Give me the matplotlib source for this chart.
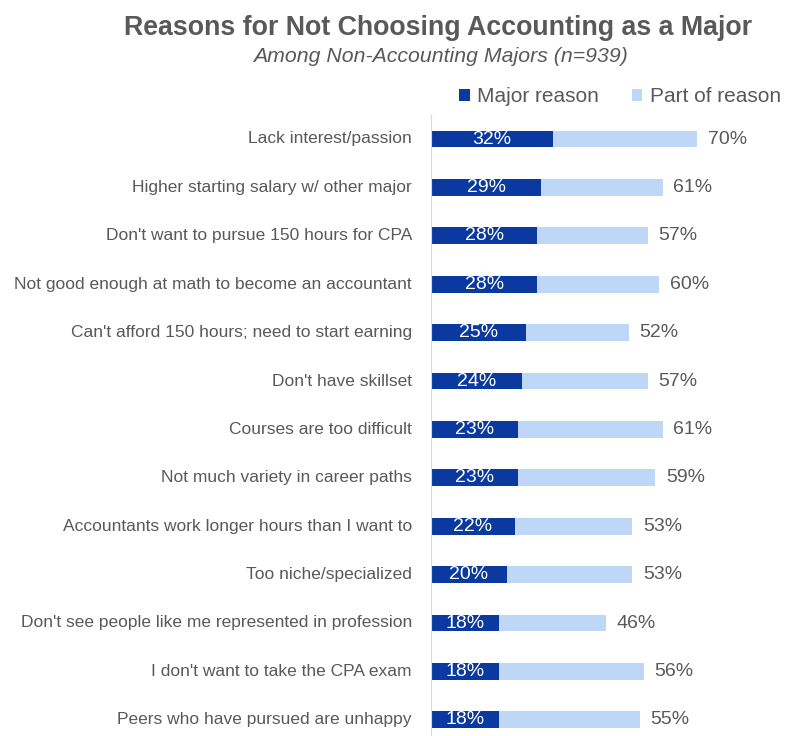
import matplotlib.pyplot as plt

reasons = [
    "Lack interest/passion",
    "Higher starting salary w/ other major",
    "Don't want to pursue 150 hours for CPA",
    "Not good enough at math to become an accountant",
    "Can't afford 150 hours; need to start earning",
    "Don't have skillset",
    "Courses are too difficult",
    "Not much variety in career paths",
    "Accountants work longer hours than I want to",
    "Too niche/specialized",
    "Don't see people like me represented in profession",
    "I don't want to take the CPA exam",
    "Peers who have pursued are unhappy",
]
major = [32, 29, 28, 28, 25, 24, 23, 23, 22, 20, 18, 18, 18]
total = [70, 61, 57, 60, 52, 57, 61, 59, 53, 53, 46, 56, 55]

DARK = "#0a3a9f"
LIGHT = "#bfd7f7"
GRAY = "#595959"

plt.rcParams['font.family'] = ['Liberation Sans', 'DejaVu Sans']

W, H = 788, 736
fig = plt.figure(figsize=(W / 100, H / 100), dpi=100)

# axes placed so that 0% sits at x=431px, rows spaced ~48.4px from y=139px
left_px, row0, step = 431, 139, 48.4
top_px = row0 - step / 2
ax = fig.add_axes([left_px / W, 0, 1 - left_px / W, 1 - top_px / H])
ax.set_xlim(0, (W - left_px) / 3.8)
ax.set_ylim((H - row0) / step, -0.5)

ys = list(range(len(reasons)))
part = [t - m for t, m in zip(total, major)]
ax.barh(ys, major, height=0.35, color=DARK, label="Major reason")
ax.barh(ys, part, left=major, height=0.35, color=LIGHT, label="Part of reason")

for y, m, t in zip(ys, major, total):
    ax.text(m / 2, y, f"{m}%", ha="center", va="center", color="white", fontsize=14)
    ax.text(t + 2.8, y, f"{t}%", ha="left", va="center", color=GRAY, fontsize=14)
    ax.text(-5, y, reasons[y], ha="right", va="center", color=GRAY, fontsize=12.5)

for s in ["top", "right", "bottom"]:
    ax.spines[s].set_visible(False)
ax.spines["left"].set_color("#d9d9d9")
ax.set_xticks([])
ax.set_yticks([])
ax.patch.set_alpha(0)

fig.text(438 / W, 1 - 28 / H, "Reasons for Not Choosing Accounting as a Major",
         ha="center", va="center", fontsize=19.3, fontweight="bold", color=GRAY)
fig.text(440 / W, 1 - 57 / H, "Among Non-Accounting Majors (n=939)",
         ha="center", va="center", fontsize=15.3, style="italic", color=GRAY)

leg = fig.legend(loc="center", bbox_to_anchor=(620 / W, 1 - 97 / H), ncol=2, frameon=False,
                 fontsize=15, handlelength=0.5, handleheight=0.5, handletextpad=0.35,
                 columnspacing=1.6)
for t in leg.get_texts():
    t.set_color(GRAY)

fig.savefig("out.png", dpi=100)
